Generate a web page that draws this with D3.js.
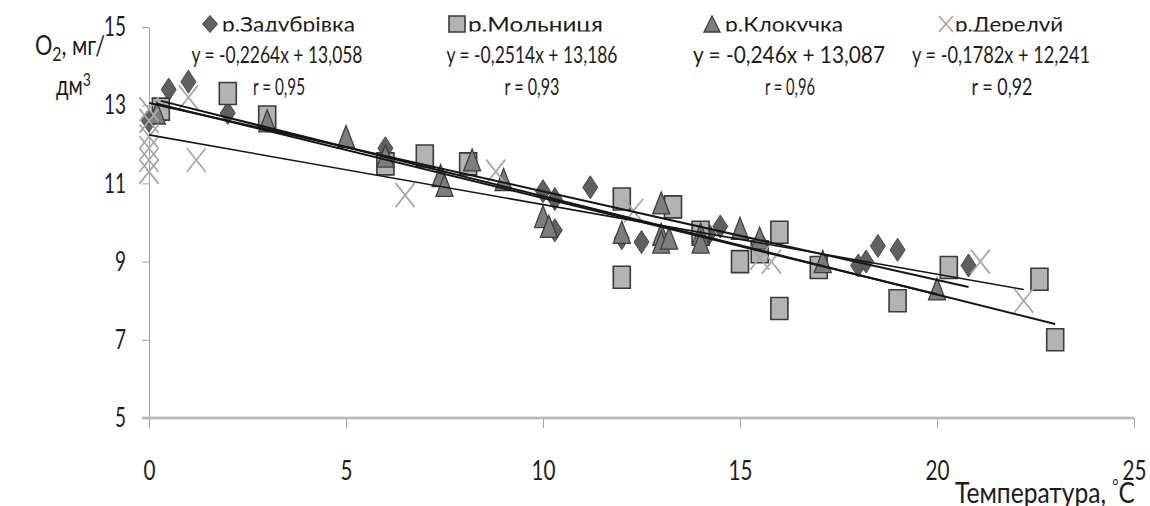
<!DOCTYPE html>
<html>
<head>
<meta charset="utf-8">
<script src="https://cdn.jsdelivr.net/npm/d3@7"></script>
<style>
  body { margin: 0; background: #fff; }
  text { font-family: Lato, "Open Sans", sans-serif; fill: #1c1c1c; }
</style>
</head>
<body>
<div class="chart"></div>
<script>
// series labels and trend equations
var seriesNames = ["р.Задубрівка", "р.Мольниця", "р.Клокучка", "р.Дерелуй"];
var equations = ["y = -0,2264x + 13,058", "y = -0,2514x + 13,186", "y = -0,246x + 13,087", "y = -0,1782x + 12,241"];
var rLabels = ["r = 0,95", "r = 0,93", "r = 0,96", "r = 0,92"];
var slopes = [-0.2264, -0.2514, -0.246, -0.1782];
var intercepts = [13.058, 13.186, 13.087, 12.241];

// [temperature, O2] pairs
var zadubrivka = [[0, 12.6], [0.5, 13.4], [1, 13.6], [2, 12.8], [3, 12.6], [6, 11.9], [10, 10.8], [10.3, 10.6],
  [10.3, 9.8], [11.2, 10.9], [12, 9.6], [12.5, 9.5], [14.2, 9.7], [14.5, 9.9], [15.5, 9.5], [18, 8.9],
  [18.2, 9.0], [18.5, 9.4], [19, 9.3], [20.8, 8.9]];
var molnytsia = [[0.3, 12.9], [2, 13.3], [3, 12.7], [6, 11.5], [7, 11.7], [8.1, 11.5], [12, 10.6], [12, 8.6],
  [13.3, 10.4], [14, 9.75], [15, 9.0], [15.5, 9.25], [16, 9.75], [16, 7.8], [17, 8.85], [19, 8.0],
  [20.3, 8.85], [22.6, 8.55], [23, 7.0]];
var klokuchka = [[0.2, 12.8], [3, 12.6], [5, 12.2], [6, 11.7], [7.4, 11.2], [7.5, 10.95], [8.2, 11.6], [9, 11.1],
  [10, 10.15], [10.15, 9.9], [12, 9.75], [13, 10.5], [13, 9.7], [13, 9.5], [13.2, 9.6], [14, 9.7], [14, 9.5],
  [15, 9.85], [15.5, 9.6], [17.1, 9.0], [20, 8.3]];
var dereluy = [[0, 12.9], [0, 12.6], [0, 12.2], [0, 11.9], [0, 11.6], [0, 11.3], [1, 13.2], [1.2, 11.6],
  [6.5, 10.7], [8.8, 11.3], [12.3, 10.3], [15.5, 9.1], [15.8, 9.0], [21.1, 9.0], [22.2, 8.0]];

var xTicks = [0, 5, 10, 15, 20, 25];
var yTicks = [5, 7, 9, 11, 13, 15];

function init() {
    var w = 1150, h = 506;
    var allData = [zadubrivka, molnytsia, klokuchka, dereluy];
    var shapes = ["diamond", "square", "triangle", "cross"];
    var fills = ["#606060", "#b3b3b3", "#7d7d7d", "none"];
    var strokes = ["#4a4a4a", "#3a3a3a", "#3e3e3e", "#a8a8a8"];
    var strokeW = [1, 1.6, 1.3, 1.8];

    var svg = d3.select(".chart").append("svg")
        .attr("width", w)
        .attr("height", h);

    var xScale = d3.scaleLinear().domain([0, 25]).range([149, 1134]);
    var yScale = d3.scaleLinear().domain([5, 15]).range([418, 27]);

    // marker outlines centred on 0,0
    function markerPath(type, mw, mh) {
        var a = mw / 2, b = mh / 2;
        if (type == "diamond") return "M0," + (-b) + "L" + a + ",0L0," + b + "L" + (-a) + ",0Z";
        if (type == "square") return "M" + (-a) + "," + (-b) + "H" + a + "V" + b + "H" + (-a) + "Z";
        if (type == "triangle") return "M0," + (-b) + "L" + a + "," + b + "H" + (-a) + "Z";
        return "M" + (-a) + "," + (-b) + "L" + a + "," + b + "M" + a + "," + (-b) + "L" + (-a) + "," + b;
    }
    var markerW = [15, 17, 17, 19];
    var markerH = [23, 22, 22, 24];

    // axes
    var yAxis = d3.axisLeft(yScale).tickValues(yTicks).tickSize(7).tickPadding(16).tickSizeOuter(0);
    var gy = svg.append("g").attr("transform", "translate(149,0)").call(yAxis);
    gy.selectAll("path, line").attr("stroke", "#a3a3a3");
    gy.selectAll("text")
        .style("font-size", "27px")
        .attr("textLength", function(d) { return String(d).length * 11; })
        .attr("lengthAdjust", "spacingAndGlyphs");

    var xAxis = d3.axisBottom(xScale).tickValues(xTicks).tickSize(10).tickPadding(33).tickSizeOuter(0);
    var gx = svg.append("g").attr("transform", "translate(0,418)").call(xAxis);
    gx.selectAll("path, line").attr("stroke", "#a3a3a3");
    gx.select(".domain").attr("stroke-width", 2.5).attr("d", "M142,0H1134");
    gx.selectAll("text")
        .style("font-size", "27px")
        .attr("textLength", function(d) { return String(d).length * 12; })
        .attr("lengthAdjust", "spacingAndGlyphs");
    svg.append("line").attr("x1", 142).attr("x2", 1134).attr("y1", 418).attr("y2", 418)
        .attr("stroke", "#d8d8d8").attr("stroke-width", 0.8);

    // points
    allData.forEach(function(data, i) {
        svg.append("g").selectAll("path")
            .data(data)
            .enter().append("path")
            .attr("d", markerPath(shapes[i], markerW[i], markerH[i]))
            .attr("transform", function(d) { return "translate(" + xScale(d[0]) + "," + yScale(d[1]) + ")"; })
            .attr("fill", fills[i])
            .attr("stroke", strokes[i])
            .attr("stroke-width", strokeW[i]);
    });

    // linear trend lines over each series' range
    var line = d3.line()
        .x(function(d) { return xScale(d[0]); })
        .y(function(d) { return yScale(d[1]); });
    allData.forEach(function(data, i) {
        var ext = d3.extent(data, function(d) { return d[0]; });
        var pts = ext.map(function(t) { return [t, intercepts[i] + slopes[i] * t]; });
        svg.append("path")
            .datum(pts)
            .attr("d", line)
            .attr("fill", "none")
            .attr("stroke", "#161616")
            .attr("stroke-width", i == 3 ? 1.6 : 2);
    });

    // legend, names are cut at the baseline as in the source
    svg.append("clipPath").attr("id", "nameClip")
        .append("rect").attr("x", 0).attr("y", 0).attr("width", w).attr("height", 31.5);

    var legMarkX = [210, 457, 712, 946];
    var nameX = [222, 468, 725, 955];
    var nameW = [133, 135, 118, 108];
    var eqX = [277, 532, 789, 1001];
    var eqW = [171, 171, 192, 178];
    var rX = [279, 532, 790, 1002];
    var rW = [52, 55, 50, 61];
    var legW = [15, 16, 16, 14];
    var legH = [17, 16, 16, 16];

    function label(x, y, str, size, len, anchor) {
        return svg.append("text")
            .attr("x", x).attr("y", y)
            .attr("text-anchor", anchor || "start")
            .attr("textLength", len)
            .attr("lengthAdjust", "spacingAndGlyphs")
            .style("font-size", size + "px")
            .text(str);
    }

    seriesNames.forEach(function(name, i) {
        svg.append("path")
            .attr("d", markerPath(shapes[i], legW[i], legH[i]))
            .attr("transform", "translate(" + legMarkX[i] + ",24)")
            .attr("fill", fills[i])
            .attr("stroke", strokes[i])
            .attr("stroke-width", strokeW[i]);
        label(nameX[i], 32, name, 22, nameW[i]).attr("clip-path", "url(#nameClip)");
        label(eqX[i], 63, equations[i], 23, eqW[i], "middle");
        label(rX[i], 95, rLabels[i], 23, rW[i], "middle");
    });

    // axis titles
    var t1 = svg.append("text").attr("x", 35).attr("y", 55)
        .attr("textLength", 70).attr("lengthAdjust", "spacingAndGlyphs")
        .style("font-size", "26px");
    t1.append("tspan").text("O");
    t1.append("tspan").attr("dy", 6).style("font-size", "19px").text("2");
    t1.append("tspan").attr("dy", -6).text(", мг/");

    var t2 = svg.append("text").attr("x", 56).attr("y", 95)
        .attr("textLength", 35).attr("lengthAdjust", "spacingAndGlyphs")
        .style("font-size", "26px");
    t2.append("tspan").text("дм");
    t2.append("tspan").attr("dy", -9).style("font-size", "18px").text("3");

    var t3 = svg.append("text").attr("x", 955).attr("y", 503)
        .attr("textLength", 180).attr("lengthAdjust", "spacingAndGlyphs")
        .style("font-size", "29px");
    t3.append("tspan").text("Температура, ");
    t3.append("tspan").attr("dy", -11).style("font-size", "18px").text("°");
    t3.append("tspan").attr("dy", 11).text("C");
}

window.onload = init;
</script>
</body>
</html>
